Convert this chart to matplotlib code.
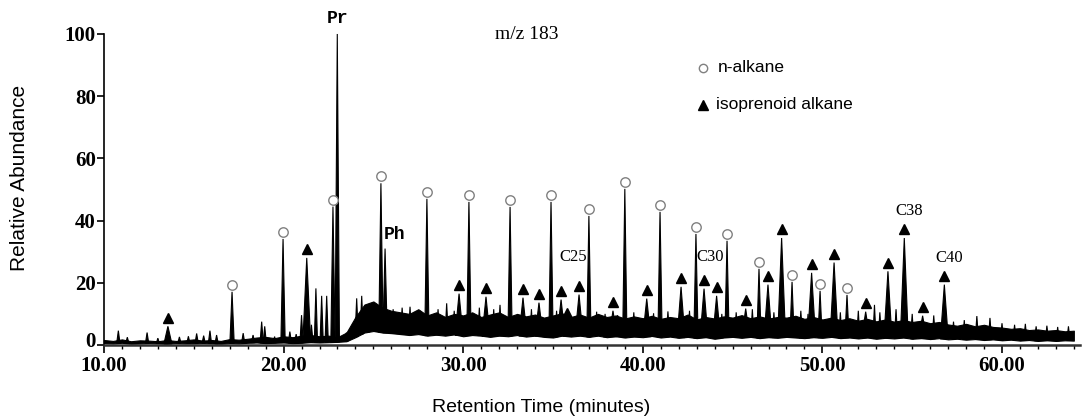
import numpy as np
import matplotlib
matplotlib.use("Agg")
import matplotlib.pyplot as plt
import matplotlib.transforms as mtransforms
from matplotlib.ticker import MultipleLocator, FixedLocator

# baseline noise band, read every 0.5 min (10.0 ... 64.0)
band_t = np.arange(10.0, 64.01, 0.5)
band_lo = [0.6, 0.5, 0.7, 0.4, 0.5, 0.6, 0.5, 0.4, 0.6, 0.5,
           0.5, 0.6, 0.5, 0.4, 0.6, 0.5, 0.7, 0.8, 0.6, 0.7,
           0.8, 0.6, 0.7, 0.9, 0.8, 0.9, 1.0, 1.2,
           2.5, 4.0, 4.5, 4.0, 3.8, 3.5, 3.2, 3.5, 3.0, 3.3,
           3.0, 3.4, 2.8, 3.2, 3.0, 2.6, 3.0, 2.8, 3.2, 2.7,
           3.0, 2.6, 2.4, 3.0, 2.7, 3.0, 2.6, 3.0, 2.5, 2.8,
           2.4, 2.7, 2.5, 2.9, 2.4, 2.7, 2.3, 2.6, 2.2, 2.5,
           2.0, 2.4, 2.6, 2.3, 2.6, 2.2, 2.5, 2.3, 2.6, 2.4,
           2.2, 2.5, 2.3, 2.6, 2.2, 2.4, 2.1, 2.4, 2.0, 2.3,
           2.1, 2.4, 2.0, 2.2, 1.9, 2.2, 1.8, 2.0, 1.7, 1.9,
           1.6, 1.8, 1.5, 1.7, 1.4, 1.6, 1.3, 1.5, 1.3, 1.5,
           1.4]
band_hi = [1.6, 1.3, 1.8, 1.2, 1.5, 1.4, 1.2, 1.6, 1.3, 1.5,
           1.8, 1.4, 1.6, 1.3, 1.9, 1.7, 2.0, 2.4, 2.6, 2.2,
           2.8, 2.5, 3.0, 3.2, 2.8, 3.0, 2.5, 4.0,
           9.0, 13.0, 14.0, 12.0, 11.0, 10.5, 10.0, 11.5, 9.5, 10.5,
           9.0, 10.0, 9.5, 10.5, 9.0, 9.8, 10.5, 9.0, 10.0, 9.2,
           9.8, 8.8, 9.5, 10.2, 9.0, 9.8, 8.8, 10.0, 9.0, 9.5,
           8.5, 9.2, 8.6, 9.4, 8.4, 9.0, 8.6, 9.8, 8.2, 9.0,
           8.5, 9.2, 8.8, 9.6, 8.6, 9.2, 8.5, 9.0, 8.8, 9.4,
           8.4, 9.0, 8.2, 8.8, 8.0, 8.6, 7.8, 8.4, 7.6, 8.2,
           7.5, 8.0, 7.4, 7.8, 7.0, 7.4, 6.6, 6.2, 6.8, 6.0,
           6.5, 5.8, 5.6, 5.2, 5.4, 4.8, 5.0, 4.6, 4.8, 4.4,
           4.6]

# n-alkane peaks (open circles)
nalk_t = [17.13, 19.97, 22.75, 25.42, 27.98, 30.32, 32.61, 34.89, 37.00,
          39.00, 40.96, 42.96, 44.69, 46.47, 48.31, 49.87, 51.37]
nalk_h = [17.1, 34.1, 44.5, 52.0, 47.0, 46.0, 44.4, 46.0, 41.5,
          50.2, 42.8, 35.7, 33.5, 24.5, 20.3, 17.4, 16.1]

# isoprenoid alkane peaks (filled triangles)
iso_t = [13.56, 21.29, 29.77, 31.27, 33.33, 34.22, 35.45, 35.78, 36.45, 38.34,
         40.22, 42.13, 43.41, 44.11, 45.73, 46.97, 47.73, 49.40, 50.65, 52.41,
         53.65, 54.56, 55.58, 56.79]
iso_h = [6.0, 28.0, 16.5, 15.5, 15.2, 13.6, 14.6, 7.5, 16.2, 11.0,
         14.9, 18.7, 18.1, 15.8, 11.7, 19.4, 34.4, 23.2, 26.5, 10.7,
         23.7, 34.4, 9.4, 19.4]

# pristane / phytane
pr_t, pr_h = 22.99, 100.0
ph_t, ph_h = 25.65, 31.0

# unmarked small peaks and noise spikes
minor_t = [10.8, 11.3, 12.4, 13.0, 14.2, 14.7, 15.16, 15.55, 15.9, 16.27,
           17.75, 18.3, 18.78, 18.95, 19.5, 20.35, 20.7, 21.0, 21.55, 21.8,
           22.12, 22.4, 23.5, 24.07, 24.35, 24.7, 25.1, 26.1, 26.6, 27.04,
           27.6, 28.6, 29.08, 29.5, 30.9, 31.7, 32.05, 33.8, 35.2, 37.43,
           37.9, 38.6, 39.5, 40.6, 41.4, 42.6, 44.4, 45.2, 46.1, 47.3,
           48.8, 49.2, 51.0, 52.0, 52.9, 53.2, 54.1, 55.0, 56.2, 57.3,
           57.9, 58.6, 59.33, 60.0, 60.7, 61.3, 61.9, 62.5, 63.1, 63.7]
minor_h = [4.6, 2.5, 4.0, 2.2, 2.6, 2.8, 3.7, 3.0, 4.6, 3.2,
           3.8, 3.2, 7.5, 6.0, 2.7, 4.3, 3.5, 9.6, 6.5, 18.2,
           15.8, 15.8, 4.0, 15.0, 15.8, 13.0, 12.5, 11.5, 12.0, 12.3,
           11.0, 11.5, 13.4, 11.0, 12.0, 11.5, 12.9, 11.5, 11.0, 10.7,
           10.0, 9.6, 10.5, 10.2, 10.8, 11.0, 10.0, 10.5, 11.5, 10.5,
           11.0, 10.0, 10.5, 11.0, 12.9, 10.5, 11.5, 10.0, 9.5, 7.5,
           8.0, 9.3, 8.7, 7.0, 6.5, 6.8, 6.0, 6.2, 5.8, 6.0]

x_major = [10, 20, 30, 40, 50, 60]
x_labels = ["10.00", "20.00", "30.00", "40.00", "50.00", "60.00"]
y_major = [0, 20, 40, 60, 80, 100]

fig = plt.figure(figsize=(10.82, 4.17), dpi=100)
ax = fig.add_axes([0.0961, 0.1727, 0.902, 0.7458])


def draw_peak(t, h, w):
    base = np.interp(t, band_t, band_lo)
    ax.fill([t - w, t, t + w], [base, h, base], color="black",
            lw=0.8, clip_on=False, zorder=3)


# noise band
ax.fill_between(band_t, band_lo, band_hi, color="black", lw=0.8,
                edgecolor="black", zorder=2)

for t, h in zip(minor_t, minor_h):
    draw_peak(t, h, 0.09)
for t, h in zip(nalk_t, nalk_h):
    draw_peak(t, h, 0.12)
for t, h in zip(iso_t, iso_h):
    draw_peak(t, h, 0.22)
draw_peak(pr_t, pr_h, 0.12)
draw_peak(ph_t, ph_h, 0.12)

# markers
ax.plot(nalk_t, np.array(nalk_h) + 2.2, "o", mfc="white", mec="#808080",
        ms=6.8, mew=1.0, ls="none", zorder=5, clip_on=False)
ax.plot(iso_t, np.array(iso_h) + 2.8, "^", color="black", ms=7.5,
        ls="none", zorder=5, clip_on=False)

# labels on peaks
serif = "Liberation Serif"
mono = "Liberation Mono"
ax.text(pr_t, 105, "Pr", family=mono, fontweight="bold", fontsize=13,
        ha="center", va="center")
ax.text(26.2, 35.4, "Ph", family=mono, fontweight="bold", fontsize=13,
        ha="center", va="center")
ax.text(33.55, 99.7, "m/z 183", family=serif, fontsize=14,
        ha="center", va="center")
ax.text(36.14, 28.4, "C25", family=serif, fontsize=12, ha="center", va="center")
ax.text(43.74, 28.4, "C30", family=serif, fontsize=12, ha="center", va="center")
ax.text(54.82, 43.1, "C38", family=serif, fontsize=12, ha="center", va="center")
ax.text(57.05, 27.9, "C40", family=serif, fontsize=12, ha="center", va="center")

# legend
ax.plot([0.6137], [0.8907], "o", mfc="white", mec="#808080", ms=6, mew=1.0,
        transform=ax.transAxes, clip_on=False)
ax.plot([0.6137], [0.7717], "^", color="black", ms=6.5,
        transform=ax.transAxes, clip_on=False)
ax.text(0.629, 0.8907, "n-alkane", transform=ax.transAxes,
        family="Liberation Sans", fontsize=12.5, va="center")
ax.text(0.627, 0.7717, "isoprenoid alkane", transform=ax.transAxes,
        family="Liberation Sans", fontsize=12.5, va="center")

# axes
ax.set_xlim(10, 64.34)
ax.set_ylim(0, 100)
ax.spines["top"].set_visible(False)
ax.spines["right"].set_visible(False)
ax.spines["left"].set_linewidth(1.2)
ax.spines["bottom"].set_linewidth(1.8)
ax.spines["bottom"].set_color("#333333")
ax.xaxis.set_major_locator(FixedLocator(x_major))
ax.xaxis.set_minor_locator(MultipleLocator(1))
ax.set_xticklabels(x_labels)
ax.set_yticks(y_major)
ax.tick_params(axis="x", which="major", length=6, width=1.2, pad=2)
ax.tick_params(axis="x", which="minor", length=3, width=1.0)
ax.tick_params(axis="y", length=5, width=1.2, pad=1)
for lab in ax.get_xticklabels() + ax.get_yticklabels():
    lab.set_family(serif)
    lab.set_fontweight("bold")
    lab.set_fontsize(15)

# lift the "0" label a little so it clears "10.00"
zero_lab = ax.get_yticklabels()[0]
zero_lab.set_transform(zero_lab.get_transform() +
                       mtransforms.ScaledTranslation(0, 4 / 72, fig.dpi_scale_trans))

fig.text(20 / 1082, 1 - 178 / 417, "Relative Abundance", rotation=90,
         ha="center", va="center", family="Liberation Sans", fontsize=15)
fig.text(541 / 1082, 1 - 407 / 417, "Retention Time (minutes)",
         ha="center", va="center", family="Liberation Sans", fontsize=14)

fig.savefig("out.png", dpi=100)
